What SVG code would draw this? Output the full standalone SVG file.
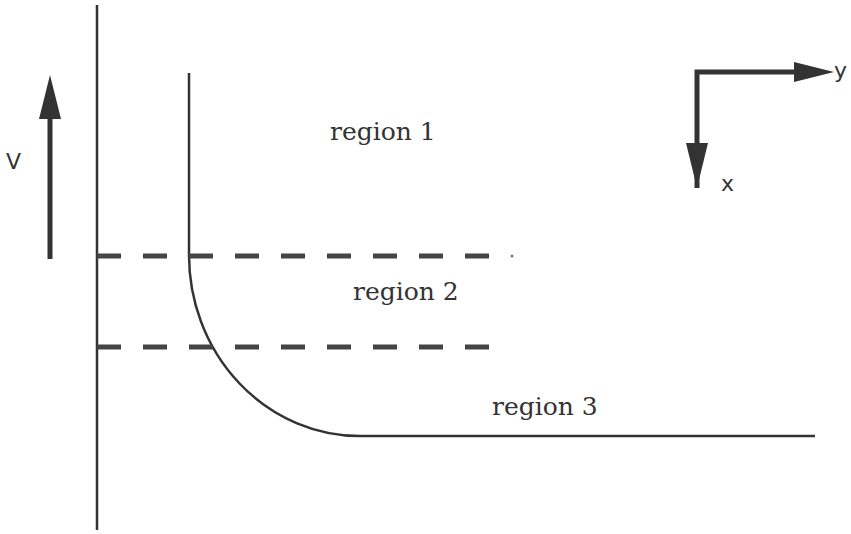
<svg xmlns="http://www.w3.org/2000/svg" width="851" height="534" viewBox="0 0 851 534">
<style>
.ln{fill:none;stroke:#333;stroke-width:2.5}
.dash{fill:none;stroke:#444;stroke-width:5;stroke-dasharray:24 22}
.ar{fill:none;stroke:#333;stroke-width:5}
.hd{fill:#333;stroke:none}
.lbl{font-family:"DejaVu Serif",serif;font-size:25px;fill:#333}
.ax{font-family:"DejaVu Sans","Liberation Sans",sans-serif;font-size:22px;fill:#333}
</style>
<rect width="851" height="534" fill="#fff"/>
<g id="connectors">
<line class="ln" x1="97" y1="5" x2="97" y2="530"/>
<path class="ln" d="M189,73 V255 A171,181 0 0 0 360,436 H815"/>
<line class="dash" x1="97" y1="256" x2="492" y2="256"/>
<line class="dash" x1="97" y1="347" x2="492" y2="347"/>
<circle cx="512" cy="256" r="1.5" fill="#777"/>
</g>
<g id="v-arrow">
<line class="ar" x1="50" y1="259" x2="50" y2="115"/>
<polygon class="hd" points="50,75 39,119 61,119"/>
<text class="ax" x="6" y="169">V</text>
</g>
<g id="axes">
<polyline class="ar" points="697,188 697,72 800,72" />
<polygon class="hd" points="834,72 794,62 794,82"/>
<polygon class="hd" points="697,188 686,143 708,143"/>
<text class="ax" x="834" y="78">y</text>
<text class="ax" x="721" y="191">x</text>
</g>
<g id="region1"><text class="lbl" x="330" y="140">region 1</text></g>
<g id="region2"><text class="lbl" x="353" y="300">region 2</text></g>
<g id="region3"><text class="lbl" x="492" y="415">region 3</text></g>
</svg>
